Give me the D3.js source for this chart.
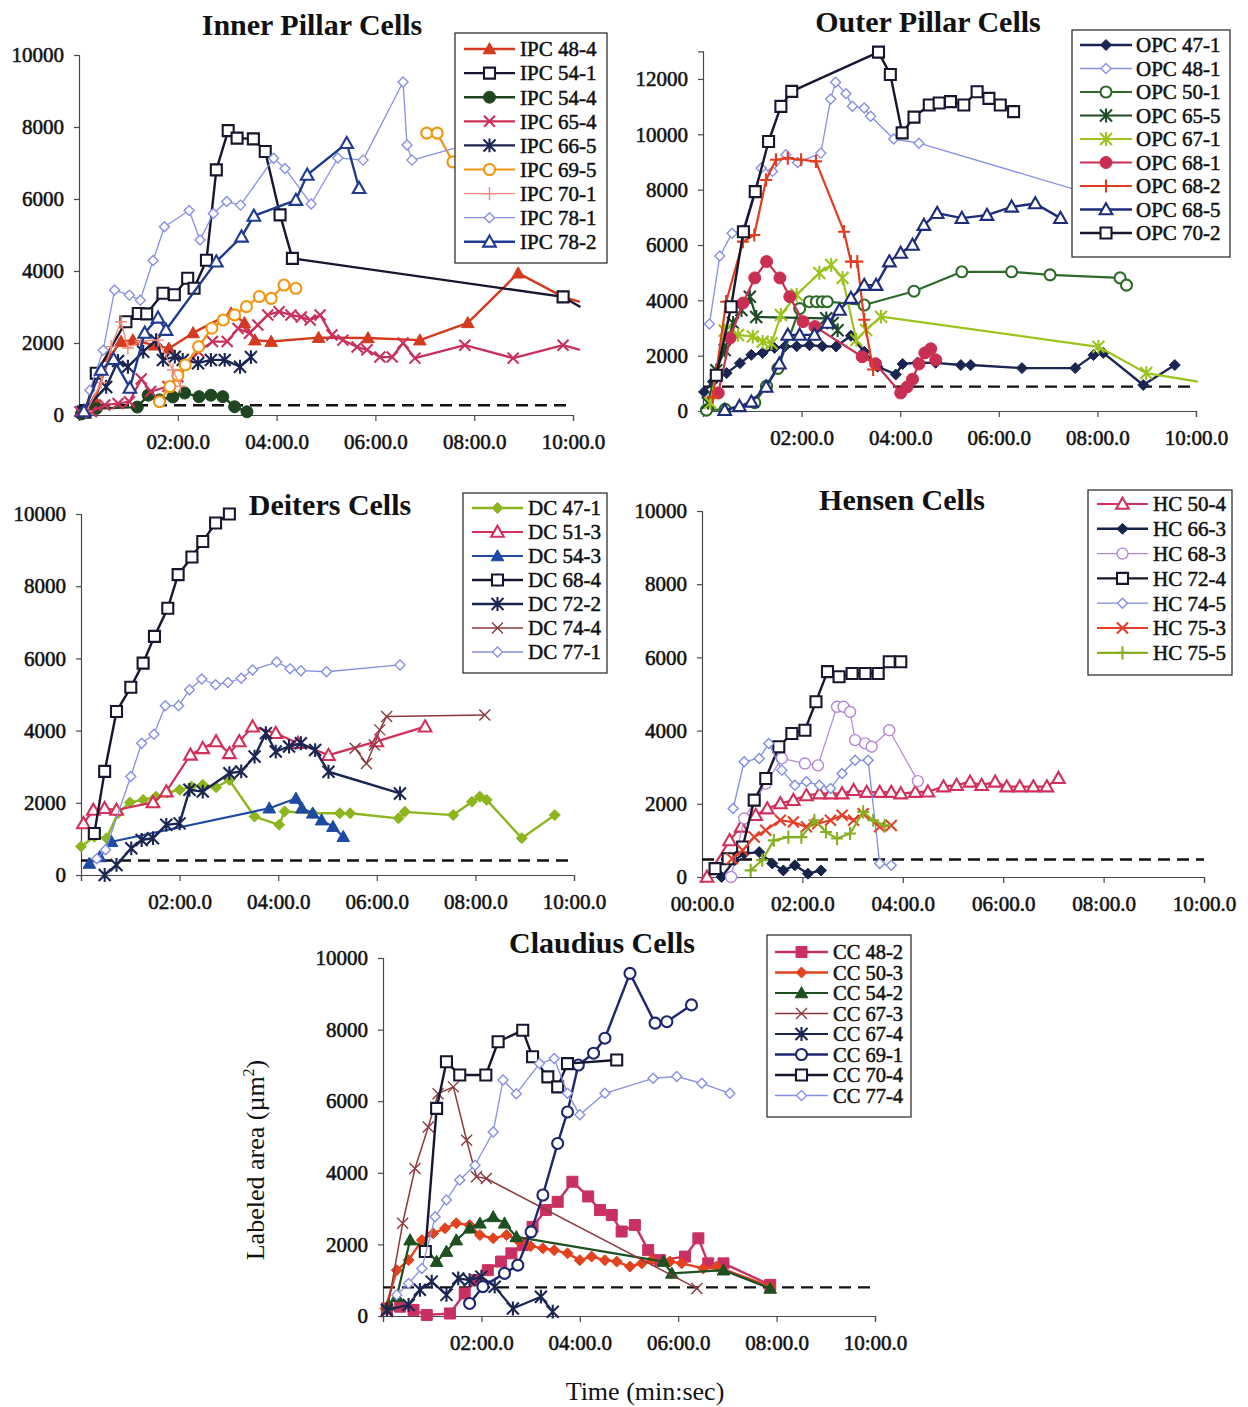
<!DOCTYPE html>
<html>
<head>
<meta charset="utf-8">
<script src="https://cdn.jsdelivr.net/npm/d3@7"></script>
<style>
  html, body { margin: 0; padding: 0; background: #fff; }
  svg { display: block; }
  text { font-family: "Liberation Serif", "Times New Roman", serif; fill: #111; }
</style>
</head>
<body>
<svg id="fig" width="1248" height="1407"></svg>
<script>
// Labeled area (µm²) over time; time is given in minutes, null marks a gap in a record.

// ---------- Inner pillar cells ----------
const IPC_48_4 = [[0.32,420],[0.62,1620],[0.85,2040],[1.09,2080],[1.53,1940],[1.82,1850],[2.31,2280],[3.08,2830],[3.35,2560],[3.56,2080],[3.89,2040],[4.85,2150],[5.85,2140],[6.9,2080],[7.87,2560],[8.89,3940],[9.8,3280],[10.14,3140]];
const IPC_54_1 = [[0.12,80],[0.35,1160],[0.95,2590],[1.2,2820],[1.37,2810],[1.7,3380],[1.93,3340],[2.2,3800],[2.33,3520],[2.58,4300],[2.78,6810],[3.02,7900],[3.2,7690],[3.53,7670],[3.77,7320],[4.07,5560],[4.32,4350],[9.8,3280],[10.15,3000]];
const IPC_54_4 = [[0.05,30],[0.35,180],[1.18,220],[1.4,550],[1.63,420],[1.9,500],[2.14,610],[2.43,510],[2.67,550],[2.91,510],[3.15,230],[3.4,90]];
const IPC_65_4 = [[0.02,90],[0.25,90],[0.52,280],[0.79,320],[1.02,370],[1.26,1000],[1.45,650],[1.8,790],[2.0,1060],[2.42,1760],[2.7,2040],[3.0,2040],[3.22,2400],[3.45,2270],[3.62,2500],[3.82,2780],[4.05,2870],[4.29,2780],[4.5,2720],[4.68,2640],[4.88,2780],[5.12,2220],[5.34,2080],[5.63,1890],[5.83,1810],[6.09,1610],[6.34,1610],[6.56,2000],[6.8,1580],[7.81,1940],[8.79,1580],[9.8,1940],[10.14,1810]];
const IPC_66_5 = [[0.08,90],[0.55,780],[0.79,1500],[0.99,1340],[1.3,1760],[1.56,2080],[1.7,1530],[1.94,1620],[2.1,1530],[2.41,1440],[2.67,1530],[2.95,1530],[3.26,1340],[3.48,1610]];
const IPC_69_5 = [[1.63,370],[1.84,790],[2.0,1100],[2.15,1390],[2.42,1900],[2.69,2410],[2.92,2640],[3.15,2780],[3.39,3010],[3.65,3290],[3.89,3240],[4.15,3610],[4.39,3520],[5.5,null],[7.04,7830],[7.25,7830],[7.57,7030],[8.0,6500]];
const IPC_70_1 = [[0.15,100],[0.45,900],[0.65,1900],[0.85,2590],[0.99,1860],[1.25,2050],[1.6,2080],[1.9,1250],[2.05,800]];
const IPC_78_1 = [[0.22,690],[0.49,1800],[0.72,3470],[1.02,3330],[1.24,3190],[1.5,4290],[1.73,5230],[2.23,5680],[2.45,4860],[2.72,5600],[2.99,5930],[3.27,5830],[3.94,7130],[4.17,6850],[4.7,5860],[5.24,7140],[5.75,7080],[6.56,9250],[6.64,7500],[6.74,7080],[8.1,7600]];
const IPC_78_2 = [[0.1,100],[0.45,1250],[0.7,1550],[1.03,750],[1.33,2280],[1.6,2700],[1.76,2360],[2.78,4260],[3.29,4950],[3.54,5530],[4.39,5970],[4.62,6670],[5.42,7550],[5.67,6300]];

// ---------- Outer pillar cells ----------
const OPC_47_1 = [[0.02,690],[0.2,1060],[0.48,1370],[0.75,1730],[0.98,2030],[1.21,2100],[1.45,2280],[1.66,2330],[1.9,2340],[2.16,2380],[2.42,2340],[2.7,2330],[3.0,2720],[3.27,2140],[3.54,1600],[3.91,1320],[4.05,1700],[4.35,1750],[4.72,1740],[5.23,1660],[5.43,1660],[6.47,1550],[7.55,1550],[7.92,2020],[8.12,2100],[8.93,940],[9.57,1660]];
const OPC_48_1 = [[0.13,3140],[0.34,5600],[0.59,6420],[0.81,6540],[1.18,8780],[1.41,8660],[1.68,9260],[1.92,8980],[2.39,9320],[2.59,11280],[2.69,11880],[2.9,11470],[3.03,11010],[3.27,10950],[3.4,10650],[3.87,9830],[4.38,9680],[8.0,7770]];
const OPC_50_1 = [[0.07,30],[0.45,60],[1.05,300],[1.29,900],[1.52,1540],[1.96,3700],[2.16,3950],[2.3,3950],[2.42,3950],[2.52,3950],[3.27,3830],[4.28,4330],[5.25,5030],[6.26,5030],[7.04,4920],[8.46,4810],[8.59,4550]];
const OPC_65_5 = [[0.1,300],[0.27,1470],[0.44,2200],[0.61,3180],[0.78,3650],[0.95,4130],[1.08,3400],[2.5,3350],[2.63,3180],[2.73,2920]];
const OPC_67_1 = [[0.15,300],[0.44,2900],[0.71,2750],[1.01,2690],[1.21,2500],[1.39,2450],[1.58,3470],[1.9,4200],[2.36,4990],[2.6,5280],[2.83,4810],[3.11,2570],[3.31,2930],[3.61,3410],[8.02,2320],[8.99,1370],[10.04,1060]];
const OPC_68_1 = [[0.31,650],[0.55,2640],[0.81,3900],[1.05,4810],[1.29,5400],[1.56,4810],[1.76,4130],[2.03,3230],[2.27,3050],[3.23,1960],[3.5,1710],[4.01,650],[4.14,870],[4.25,1150],[4.38,1700],[4.5,2100],[4.62,2250],[4.72,1850]];
const OPC_68_2 = [[0.2,500],[0.47,3950],[0.81,6120],[1.04,6360],[1.28,8350],[1.48,9080],[1.72,9140],[1.99,9080],[2.29,9020],[2.86,6480],[3.0,5400],[3.13,5400],[3.27,3300],[3.45,1500]];
const OPC_68_5 = [[0.44,30],[0.74,170],[0.98,330],[1.28,870],[1.55,1710],[1.72,2750],[1.96,2750],[2.26,2750],[2.53,3180],[2.77,3650],[3.0,4080],[3.27,4550],[3.51,4550],[3.78,5400],[4.01,5710],[4.25,6000],[4.48,6720],[4.75,7150],[5.25,6970],[5.76,7080],[6.26,7380],[6.74,7500],[7.25,6970]];
const OPC_70_2 = [[0.27,1290],[0.57,3770],[0.82,6480],[1.06,7930],[1.33,9740],[1.58,11010],[1.8,11550],[3.56,12970],[3.8,12160],[4.04,10050],[4.28,10620],[4.59,11060],[4.79,11130],[5.02,11180],[5.29,11060],[5.56,11540],[5.8,11300],[6.03,11060],[6.3,10820]];

// ---------- Deiters cells ----------
const DC_47_1 = [[0,790],[0.27,1060],[0.52,1020],[0.75,1710],[0.99,2010],[1.26,2080],[1.52,2170],[1.75,2280],[2.0,2360],[2.24,2450],[2.47,2500],[2.74,2430],[3.01,2630],[3.52,1620],[4.02,1390],[4.13,1760],[4.7,1710],[5.25,1710],[5.46,1710],[6.44,1570],[6.57,1750],[7.55,1660],[7.93,2030],[8.09,2170],[8.23,2080],[8.94,1020],[9.61,1660]];
const DC_51_3 = [[0.05,1430],[0.25,1800],[0.48,1850],[0.72,1800],[1.46,2010],[1.73,2310],[2.22,3330],[2.47,3510],[2.74,3700],[3.01,3370],[3.21,3700],[3.48,4110],[3.95,3930],[4.4,3650],[5.02,3320],[6.0,3700],[6.98,4110]];
const DC_54_3 = [[0.17,320],[0.38,500],[0.62,920],[3.82,1850],[4.36,2120],[4.48,1850],[4.7,1710],[4.88,1520],[5.11,1340],[5.32,1060]];
const DC_68_4 = [[0.27,1150],[0.48,2870],[0.72,4530],[1.01,5200],[1.26,5870],[1.49,6610],[1.76,7390],[1.97,8320],[2.25,8810],[2.47,9240],[2.73,9750],[3.01,10000]];
const DC_72_2 = [[0.48,0],[0.72,280],[1.02,740],[1.23,970],[1.46,1020],[1.73,1390],[2.0,1430],[2.2,2360],[2.47,2310],[3.01,2820],[3.25,2870],[3.52,3280],[3.75,3930],[3.95,3420],[4.22,3560],[4.46,3650],[4.75,3460],[5.02,2860],[6.47,2260]];
const DC_74_4 = [[5.56,3510],[5.79,3090],[5.95,3600],[6.06,4020],[6.2,4390],[8.19,4430]];
const DC_77_1 = [[0.32,450],[0.5,700],[1.01,2730],[1.23,3650],[1.48,3900],[1.71,4690],[1.98,4690],[2.2,5130],[2.45,5430],[2.73,5270],[2.98,5330],[3.25,5450],[3.48,5680],[3.97,5900],[4.24,5710],[4.46,5660],[4.98,5630],[6.47,5820]];

// ---------- Hensen cells ----------
const HC_50_4 = [[0.1,0],[0.55,1000],[0.78,1370],[1.07,1690],[1.3,1870],[1.56,2010],[1.82,2100],[2.08,2230],[2.34,2280],[2.56,2280],[2.79,2280],[3.02,2370],[3.28,2320],[3.54,2320],[3.77,2320],[3.96,2280],[4.25,2320],[4.5,2330],[4.81,2470],[5.07,2510],[5.34,2600],[5.57,2510],[5.84,2600],[6.07,2470],[6.33,2470],[6.6,2470],[6.87,2470],[7.1,2700]];
const HC_66_3 = [[0.39,0],[0.65,460],[0.84,640],[1.14,680],[1.4,370],[1.62,180],[1.85,320],[2.11,90],[2.37,180]];
const HC_68_3 = [[0.58,0],[0.84,1600],[1.27,2550],[1.59,3240],[2.05,3100],[2.31,3050],[2.69,4650],[2.82,4650],[2.95,4510],[3.05,3740],[3.25,3650],[3.38,3560],[3.73,4010],[4.3,2620]];
const HC_72_4 = [[0.26,230],[0.52,500],[0.81,820],[1.04,2100],[1.27,2690],[1.53,3560],[1.79,3920],[2.05,4010],[2.27,4790],[2.5,5610],[2.73,5470],[2.99,5560],[3.25,5560],[3.51,5560],[3.73,5880],[3.96,5880]];
const HC_74_5 = [[0.62,1870],[0.84,3150],[1.14,3240],[1.33,3650],[1.59,2920],[1.85,2510],[2.08,2600],[2.34,2510],[2.56,2420],[2.79,2830],[3.05,3190],[3.31,3190],[3.54,370],[3.77,320]];
const HC_75_3 = [[0.6,500],[0.81,730],[1.04,1090],[1.27,1280],[1.56,1550],[1.82,1500],[2.08,1370],[2.31,1460],[2.56,1550],[2.79,1690],[3.02,1550],[3.21,1730],[3.54,1370],[3.77,1410]];
const HC_75_5 = [[0.97,180],[1.2,460],[1.43,1000],[1.72,1090],[1.98,1090],[2.24,1550],[2.47,1230],[2.69,1050],[2.95,1190],[3.21,1780],[3.41,1550],[3.64,1410]];

// ---------- Claudius cells ----------
const CC_48_2 = [[0.08,210],[0.35,260],[0.62,170],[0.89,30],[1.36,70],[1.66,630],[1.9,1000],[2.13,1280],[2.4,1520],[2.61,1750],[2.84,1980],[3.04,2490],[3.31,2960],[3.55,3190],[3.85,3750],[4.17,3340],[4.41,2960],[4.65,2820],[4.85,2360],[5.12,2540],[5.39,1840],[5.63,1560],[6.14,1660],[6.41,2170],[6.61,1470],[6.92,1470],[7.87,870]];
const CC_50_3 = [[0.05,210],[0.28,1280],[0.52,1560],[0.79,2120],[1.02,2310],[1.26,2450],[1.49,2590],[1.76,2540],[1.97,2260],[2.24,2170],[2.51,2260],[2.74,2120],[3.0,1950],[3.25,1890],[3.48,1840],[3.75,1750],[4.0,1560],[4.24,1660],[4.51,1560],[4.75,1520],[5.02,1380],[5.26,1470],[5.46,1560],[5.83,1520],[6.07,1470],[6.51,1330],[6.78,1380],[7.87,820]];
const CC_54_2 = [[0.11,300],[0.28,540],[0.55,2120],[0.86,1890],[1.09,1520],[1.29,1800],[1.49,2120],[1.76,2450],[1.97,2590],[2.24,2770],[2.47,2590],[2.71,2210],[5.7,1520],[5.87,1190],[6.92,1280],[7.87,770]];
const CC_67_3 = [[0.08,120],[0.4,2590],[0.65,4120],[0.92,5280],[1.12,6210],[1.43,6400],[1.7,4910],[1.9,3890],[2.1,3840],[6.38,770]];
const CC_67_4 = [[0.08,170],[0.52,310],[0.75,730],[0.99,960],[1.29,590],[1.53,1050],[1.76,1000],[2.0,1100],[2.27,820],[2.64,210],[3.21,540],[3.45,120]];
const CC_69_1 = [[1.76,350],[2.03,820],[2.47,1190],[2.74,1420],[3.01,2350],[3.25,3380],[3.55,4820],[3.75,5700],[3.97,7010],[4.28,7340],[4.51,7760],[5.02,9570],[5.53,8180],[5.77,8220],[6.27,8690]];
const CC_70_4 = [[0.86,1800],[1.09,5800],[1.29,7100],[1.56,6730],[2.09,6730],[2.34,7660],[2.84,7980],[3.04,7240],[3.35,6680],[3.55,6400],[3.75,7050],[4.75,7150]];
const CC_77_4 = [[0.28,590],[0.52,910],[0.79,1330],[1.06,2770],[1.29,3240],[1.56,3800],[1.87,4210],[2.24,5140],[2.44,6590],[2.71,6210],[3.18,7050],[3.48,7190],[3.75,6220],[4.0,5620],[4.51,6220],[5.49,6640],[5.97,6690],[6.48,6500],[7.05,6220]];

// Series names, in legend order
const ipcNames = ["IPC 48-4","IPC 54-1","IPC 54-4","IPC 65-4","IPC 66-5","IPC 69-5","IPC 70-1","IPC 78-1","IPC 78-2"];
const opcNames = ["OPC 47-1","OPC 48-1","OPC 50-1","OPC 65-5","OPC 67-1","OPC 68-1","OPC 68-2","OPC 68-5","OPC 70-2"];
const dcNames  = ["DC 47-1","DC 51-3","DC 54-3","DC 68-4","DC 72-2","DC 74-4","DC 77-1"];
const hcNames  = ["HC 50-4","HC 66-3","HC 68-3","HC 72-4","HC 74-5","HC 75-3","HC 75-5"];
const ccNames  = ["CC 48-2","CC 50-3","CC 54-2","CC 67-3","CC 67-4","CC 69-1","CC 70-4","CC 77-4"];

// Background (dashed) level of each panel
const baselineLevels = [270, 880, 400, 480, 800];

// Axis ticks
const xTickMinutes = [0, 2, 4, 6, 8, 10];
const yTicks10k = [0, 2000, 4000, 6000, 8000, 10000];
const yTicks12k = [0, 2000, 4000, 6000, 8000, 10000, 12000];
const panelTitles = ["Inner Pillar Cells", "Outer Pillar Cells", "Deiters Cells", "Hensen Cells", "Claudius Cells"];

// ---------- drawing styles ----------
const NAVY = "#1b2552", BLACK = "#16162e", PERI = "#8790e2";
const styles = {
  "IPC 48-4": {c:"#d43a1e", m:"trif", w:2.4},
  "IPC 54-1": {c:BLACK, m:"sq", w:2.4},
  "IPC 54-4": {c:"#1f4620", m:"cirf", w:2.4},
  "IPC 65-4": {c:"#c9305c", m:"x", w:2.2},
  "IPC 66-5": {c:NAVY, m:"ast", w:2.4},
  "IPC 69-5": {c:"#f29612", m:"cir", w:2.2},
  "IPC 70-1": {c:"#f28a78", m:"plus", w:1.3},
  "IPC 78-1": {c:PERI, m:"dia", w:1.3},
  "IPC 78-2": {c:"#1f3a8e", m:"tri", w:2.4},
  "OPC 47-1": {c:NAVY, m:"diaf", w:2.4},
  "OPC 48-1": {c:PERI, m:"dia", w:1.3},
  "OPC 50-1": {c:"#2d6a2a", m:"cir", w:2.2},
  "OPC 65-5": {c:"#1e4a26", m:"ast", w:2.2},
  "OPC 67-1": {c:"#9cc31e", m:"ast", w:2.2},
  "OPC 68-1": {c:"#c82f52", m:"cirf", w:2.2},
  "OPC 68-2": {c:"#e23c20", m:"plus", w:2.2},
  "OPC 68-5": {c:"#1f2c7a", m:"tri", w:2.4},
  "OPC 70-2": {c:BLACK, m:"sq", w:2.4},
  "DC 47-1": {c:"#8cb51e", m:"diaf", w:2.4},
  "DC 51-3": {c:"#d2305a", m:"tri", w:2.2},
  "DC 54-3": {c:"#1f4aa3", m:"trif", w:2.2},
  "DC 68-4": {c:BLACK, m:"sq", w:2.4},
  "DC 72-2": {c:NAVY, m:"ast", w:2.4},
  "DC 74-4": {c:"#8a3a3c", m:"x", w:1.5},
  "DC 77-1": {c:PERI, m:"dia", w:1.3},
  "HC 50-4": {c:"#d2305a", m:"tri", w:2.2},
  "HC 66-3": {c:"#15234a", m:"diaf", w:2.4},
  "HC 68-3": {c:"#b486d6", m:"cir", w:1.2},
  "HC 72-4": {c:BLACK, m:"sq", w:2.4},
  "HC 74-5": {c:"#7f8de2", m:"dia", w:1.3},
  "HC 75-3": {c:"#e2402a", m:"x", w:2.2},
  "HC 75-5": {c:"#86b022", m:"plus", w:2.2},
  "CC 48-2": {c:"#c93062", m:"sqf", w:2.4},
  "CC 50-3": {c:"#e2421e", m:"diaf", w:2.4},
  "CC 54-2": {c:"#1f5021", m:"trif", w:2.2},
  "CC 67-3": {c:"#8b3a3c", m:"x", w:1.5},
  "CC 67-4": {c:NAVY, m:"ast", w:2.2},
  "CC 69-1": {c:"#1e2670", m:"cir", w:2.4},
  "CC 70-4": {c:BLACK, m:"sq", w:2.4},
  "CC 77-4": {c:PERI, m:"dia", w:1.3}
};

// ---------- panel layout ----------
const panels = [
  { title: panelTitles[0], names: ipcNames,
    series: [IPC_48_4, IPC_54_1, IPC_54_4, IPC_65_4, IPC_66_5, IPC_69_5, IPC_70_1, IPC_78_1, IPC_78_2],
    x: [79, 573], y: [415, 55], yMax: 10000, yTicks: yTicks10k, zeroLabel: false,
    titleAt: [312, 35], legend: {x: 455, y: 33, w: 152, h: 230, row0: 49, step: 24.1, l0: 464, l1: 515, tx: 520, fs: 21} },
  { title: panelTitles[1], names: opcNames,
    series: [OPC_47_1, OPC_48_1, OPC_50_1, OPC_65_5, OPC_67_1, OPC_68_1, OPC_68_2, OPC_68_5, OPC_70_2],
    x: [703, 1196], y: [411, 51.3], yMax: 13000, yTicks: yTicks12k, zeroLabel: false,
    titleAt: [928, 32], legend: {x: 1072, y: 30, w: 158, h: 227, row0: 45, step: 23.5, l0: 1080, l1: 1132, tx: 1136, fs: 21} },
  { title: panelTitles[2], names: dcNames,
    series: [DC_47_1, DC_51_3, DC_54_3, DC_68_4, DC_72_2, DC_74_4, DC_77_1],
    x: [81, 574], y: [875, 514], yMax: 10000, yTicks: yTicks10k, zeroLabel: false,
    titleAt: [330, 515], legend: {x: 463, y: 493, w: 144, h: 180, row0: 508, step: 24, l0: 472, l1: 523, tx: 528, fs: 21} },
  { title: panelTitles[3], names: hcNames,
    series: [HC_50_4, HC_66_3, HC_68_3, HC_72_4, HC_74_5, HC_75_3, HC_75_5],
    x: [702, 1204], y: [877, 511], yMax: 10000, yTicks: yTicks10k, zeroLabel: true,
    titleAt: [902, 510], legend: {x: 1088, y: 490, w: 144, h: 185, row0: 504, step: 24.8, l0: 1097, l1: 1148, tx: 1153, fs: 21} },
  { title: panelTitles[4], names: ccNames,
    series: [CC_48_2, CC_50_3, CC_54_2, CC_67_3, CC_67_4, CC_69_1, CC_70_4, CC_77_4],
    x: [383, 875], y: [1316, 958], yMax: 10000, yTicks: yTicks10k, zeroLabel: false,
    titleAt: [602, 953], legend: {x: 767, y: 935, w: 144, h: 182, row0: 952, step: 20.5, l0: 775, l1: 828, tx: 833, fs: 20.5} }
];

const svg = d3.select("#fig");
svg.append("rect").attr("width", 1248).attr("height", 1407).attr("fill", "#fff");

const fmtTime = m => (m < 10 ? "0" + m : "" + m) + ":00.0";

function markerPath(type, s) {
  const h = s / 2;
  switch (type) {
    case "sq": case "sqf": return `M${-h},${-h}h${s}v${s}h${-s}Z`;
    case "tri": case "trif": return `M0,${-h * 1.05}L${h * 1.05},${h * 0.8}L${-h * 1.05},${h * 0.8}Z`;
    case "dia": case "diaf": return `M0,${-h}L${h},0L0,${h}L${-h},0Z`;
    case "cir": case "cirf": return `M${h},0A${h},${h} 0 1,1 ${-h},0A${h},${h} 0 1,1 ${h},0Z`;
    case "x": return `M${-h},${-h}L${h},${h}M${-h},${h}L${h},${-h}`;
    case "ast": return `M${-h},${-h}L${h},${h}M${-h},${h}L${h},${-h}M0,${-h * 1.15}L0,${h * 1.15}`;
    case "plus": return `M${-h},0L${h},0M0,${-h * 1.1}L0,${h * 1.1}`;
  }
}
const markerSize = { sq: 11, sqf: 11, tri: 12, trif: 12, dia: 10, diaf: 11, cir: 11, cirf: 12, x: 11, ast: 12, plus: 12 };

function drawMarker(g, st, x, y) {
  const filled = st.m.endsWith("f");
  const strokeOnly = ["x", "ast", "plus"].includes(st.m);
  const thin = st.w < 1.6;
  g.append("path")
    .attr("transform", `translate(${x},${y})`)
    .attr("d", markerPath(st.m, markerSize[st.m]))
    .attr("fill", strokeOnly ? "none" : (filled ? st.c : "#fff"))
    .attr("stroke", st.c)
    .attr("stroke-width", filled ? 1 : (thin ? 1.4 : 2.1));
}

panels.forEach((p, pi) => {
  const xs = d3.scaleLinear().domain([0, 10]).range(p.x);
  const ys = d3.scaleLinear().domain([0, p.yMax]).range(p.y);
  const g = svg.append("g");

  // axes
  const ya = g.append("g").attr("transform", `translate(${p.x[0]},0)`)
    .call(d3.axisLeft(ys).tickValues(p.yTicks).tickSize(5).tickPadding(10).tickFormat(d3.format("d")));
  const xa = g.append("g").attr("transform", `translate(0,${p.y[0]})`)
    .call(d3.axisBottom(xs).tickValues(xTickMinutes).tickSize(6).tickPadding(9)
      .tickFormat(m => (m === 0 && !p.zeroLabel) ? "" : fmtTime(m)));
  [ya, xa].forEach(a => {
    a.selectAll("path,line").attr("stroke", "#4a4a4a").attr("stroke-width", 1.2);
    a.selectAll("text").attr("font-family", "Liberation Serif, serif").attr("font-size", 21)
      .attr("fill", "#111").attr("stroke", "#111").attr("stroke-width", 0.55);
  });
  xa.selectAll("text").attr("dy", "0.9em");

  // background level
  g.append("line")
    .attr("x1", xs(0)).attr("x2", xs(10))
    .attr("y1", ys(baselineLevels[pi])).attr("y2", ys(baselineLevels[pi]))
    .attr("stroke", "#111").attr("stroke-width", 2.4).attr("stroke-dasharray", "12,7");

  // series
  const line = d3.line().defined(d => d[1] !== null).x(d => xs(d[0])).y(d => ys(d[1]));
  p.series.forEach((data, si) => {
    const st = styles[p.names[si]];
    g.append("path").datum(data).attr("d", line)
      .attr("fill", "none").attr("stroke", st.c).attr("stroke-width", st.w)
      .attr("stroke-linejoin", "round");
    const mg = g.append("g");
    data.filter(d => d[1] !== null && d[0] <= 10).forEach(d => drawMarker(mg, st, xs(d[0]), ys(d[1])));
  });

  // title
  g.append("text").attr("x", p.titleAt[0]).attr("y", p.titleAt[1])
    .attr("text-anchor", "middle").attr("font-size", 30).attr("font-weight", "bold").text(p.title);

  // legend
  const L = p.legend;
  g.append("rect").attr("x", L.x).attr("y", L.y).attr("width", L.w).attr("height", L.h)
    .attr("fill", "#fff").attr("stroke", "#333").attr("stroke-width", 1.3);
  p.names.forEach((name, i) => {
    const st = styles[name];
    const cy = L.row0 + i * L.step;
    g.append("line").attr("x1", L.l0).attr("x2", L.l1).attr("y1", cy).attr("y2", cy)
      .attr("stroke", st.c).attr("stroke-width", st.w);
    drawMarker(g, st, (L.l0 + L.l1) / 2, cy);
    g.append("text").attr("x", L.tx).attr("y", cy).attr("dy", "0.35em")
      .attr("font-size", L.fs).attr("stroke", "#111").attr("stroke-width", 0.5).text(name);
  });
});

// shared axis titles
const yTitle = svg.append("text")
  .attr("transform", "translate(264,1160) rotate(-90)")
  .attr("text-anchor", "middle").attr("font-size", 26);
yTitle.append("tspan").text("Labeled area (\u00b5m");
yTitle.append("tspan").attr("font-size", 16).attr("dy", -10).text("2");
yTitle.append("tspan").attr("dy", 10).text(")");

svg.append("text").attr("x", 645).attr("y", 1400).attr("text-anchor", "middle")
  .attr("font-size", 26).text("Time (min:sec)");
</script>
</body>
</html>
